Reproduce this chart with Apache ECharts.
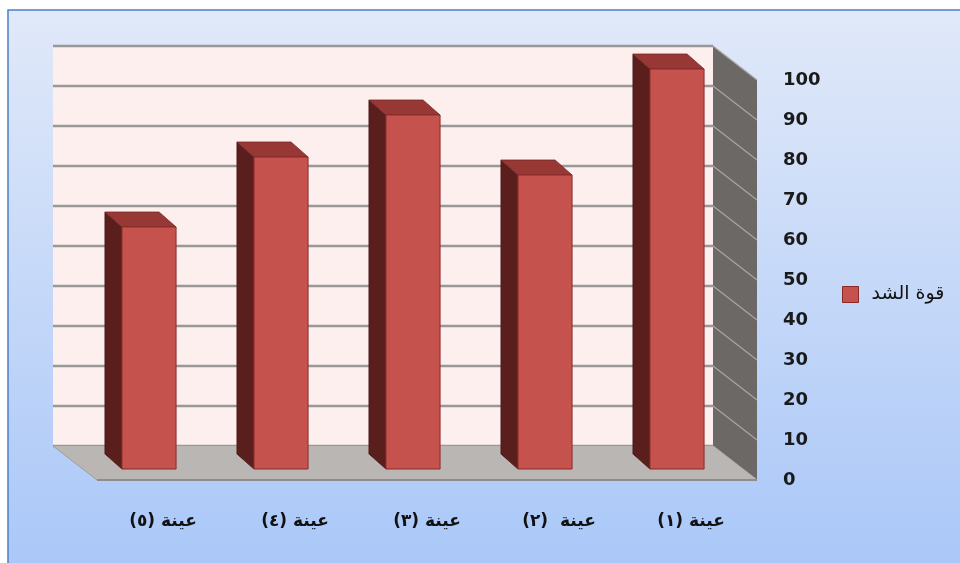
<!DOCTYPE html>
<html><head><meta charset="utf-8">
<script src="https://cdn.jsdelivr.net/npm/echarts@6/dist/echarts.min.js"></script>
<style>html,body{margin:0;padding:0;background:#fff}#c{width:960px;height:563px}</style>
</head><body><div id="c"></div>
<script>
// ---- data ----
const categories = ['عينة (١)', 'عينة  (٢)', 'عينة (٣)', 'عينة (٤)', 'عينة (٥)'];
const seriesName = 'قوة الشد';
const values = [100, 73.5, 88.5, 78, 60.5];
const yTicks = [0, 10, 20, 30, 40, 50, 60, 70, 80, 90, 100];

// ---- styling constants (pixel offsets for pseudo-3D) ----
const DX = -44, DY = -34;   // back wall offset
const FX = -14, FY = -11;   // bar front face offset
const BX = -17, BY = -15;   // bar depth

const chart = echarts.init(document.getElementById('c'), null, {renderer: 'canvas'});

function renderWalls(params, api) {
  const cs = params.coordSys;
  const L = cs.x, R = cs.x + cs.width;
  const y0 = api.coord([0, yTicks[0]])[1];
  const yTop = api.coord([0, yTicks[yTicks.length - 1]])[1];
  const children = [];
  children.push({type: 'polygon', shape: {points: [[L + DX, yTop + DY], [R + DX, yTop + DY], [R + DX, y0 + DY], [L + DX, y0 + DY]]},
    style: {fill: '#fcefee'}});
  yTicks.forEach(t => {
    const y = api.coord([0, t])[1];
    children.push({type: 'line', shape: {x1: L + DX, y1: y + DY, x2: R + DX, y2: y + DY}, style: {stroke: '#989898', lineWidth: 2.5}});
  });
  children.push({type: 'polygon', shape: {points: [[R + DX, yTop + DY], [R, yTop], [R, y0], [R + DX, y0 + DY]]},
    style: {fill: '#6b6865'}});
  yTicks.forEach(t => {
    const y = api.coord([0, t])[1];
    children.push({type: 'line', shape: {x1: R + DX, y1: y + DY, x2: R, y2: y}, style: {stroke: '#a9a6a3', lineWidth: 1.2}});
  });
  children.push({type: 'polygon', shape: {points: [[L, y0], [R, y0], [R + DX, y0 + DY], [L + DX, y0 + DY]]},
    style: {fill: '#bab6b3'}});
  children.push({type: 'line', shape: {x1: L, y1: y0, x2: R, y2: y0}, style: {stroke: '#8f8c89', lineWidth: 2}});
  children.push({type: 'line', shape: {x1: L, y1: y0, x2: L + DX, y2: y0 + DY}, style: {stroke: '#a09d9a', lineWidth: 1}});
  return {type: 'group', children: children};
}

function renderBar(params, api) {
  const idx = api.value(0), v = api.value(1);
  const base = api.coord([idx, 0]);
  const top = api.coord([idx, v]);
  const band = api.size([1, 0])[0];
  const w = band * 0.41;
  const cx = base[0] + FX;
  const x1 = cx - w / 2, x2 = cx + w / 2;
  const yb = base[1] + FY, yt = top[1] + FY;
  return {type: 'group', children: [
    {type: 'polygon', shape: {points: [[x1, yt], [x1 + BX, yt + BY], [x1 + BX, yb + BY], [x1, yb]]},
      style: {fill: '#5a1e1c', stroke: '#4a1715', lineWidth: 0.8}},
    {type: 'polygon', shape: {points: [[x1, yt], [x2, yt], [x2 + BX, yt + BY], [x1 + BX, yt + BY]]},
      style: {fill: '#973835', stroke: '#7a2a28', lineWidth: 0.8}},
    {type: 'rect', shape: {x: x1, y: yt, width: w, height: yb - yt},
      style: {fill: '#c6524e', stroke: '#8a2a28', lineWidth: 1}}
  ]};
}

const option = {
  animation: false,
  graphic: [{
    type: 'rect', z: -10, silent: true,
    shape: {x: 8, y: 10, width: 970, height: 580},
    style: {
      fill: new echarts.graphic.LinearGradient(0, 0, 0, 1, [{offset: 0, color: '#e1e9f9'}, {offset: 1, color: '#a7c6f8'}]),
      stroke: '#4f7fc4', lineWidth: 1.5
    }
  }],
  grid: {left: 97, right: 203, top: 80, bottom: 83},
  legend: {
    data: [{name: seriesName, icon: 'rect'}],
    left: 837, top: 280, itemWidth: 16, itemHeight: 16,
    itemStyle: {borderColor: '#8a2a28', borderWidth: 1},
    textStyle: {fontFamily: 'DejaVu Sans', fontSize: 19, color: '#111', padding: [0, 0, 0, 8]}
  },
  xAxis: {
    type: 'category', data: categories, inverse: true,
    axisLine: {show: false}, axisTick: {show: false}, splitLine: {show: false},
    axisLabel: {margin: 33, fontSize: 17, fontWeight: 'bold', fontFamily: 'DejaVu Sans', color: '#111',
      formatter: s => '\u2067' + s + '\u2069'}
  },
  yAxis: {
    type: 'value', position: 'right', min: 0, max: 100, interval: 10,
    axisLine: {show: false}, axisTick: {show: false}, splitLine: {show: false},
    axisLabel: {margin: 26, fontSize: 18, fontWeight: 'bold', fontFamily: 'DejaVu Sans', color: '#1a1a1a'}
  },
  series: [
    {name: 'walls', type: 'custom', silent: true, z: 1, renderItem: renderWalls, data: [[0, 0]], clip: false},
    {name: seriesName, type: 'custom', z: 2, renderItem: renderBar, clip: false,
      itemStyle: {color: '#c6524e'},
      data: values.map((v, i) => [i, v])}
  ]
};
chart.setOption(option);
</script>
</body></html>
